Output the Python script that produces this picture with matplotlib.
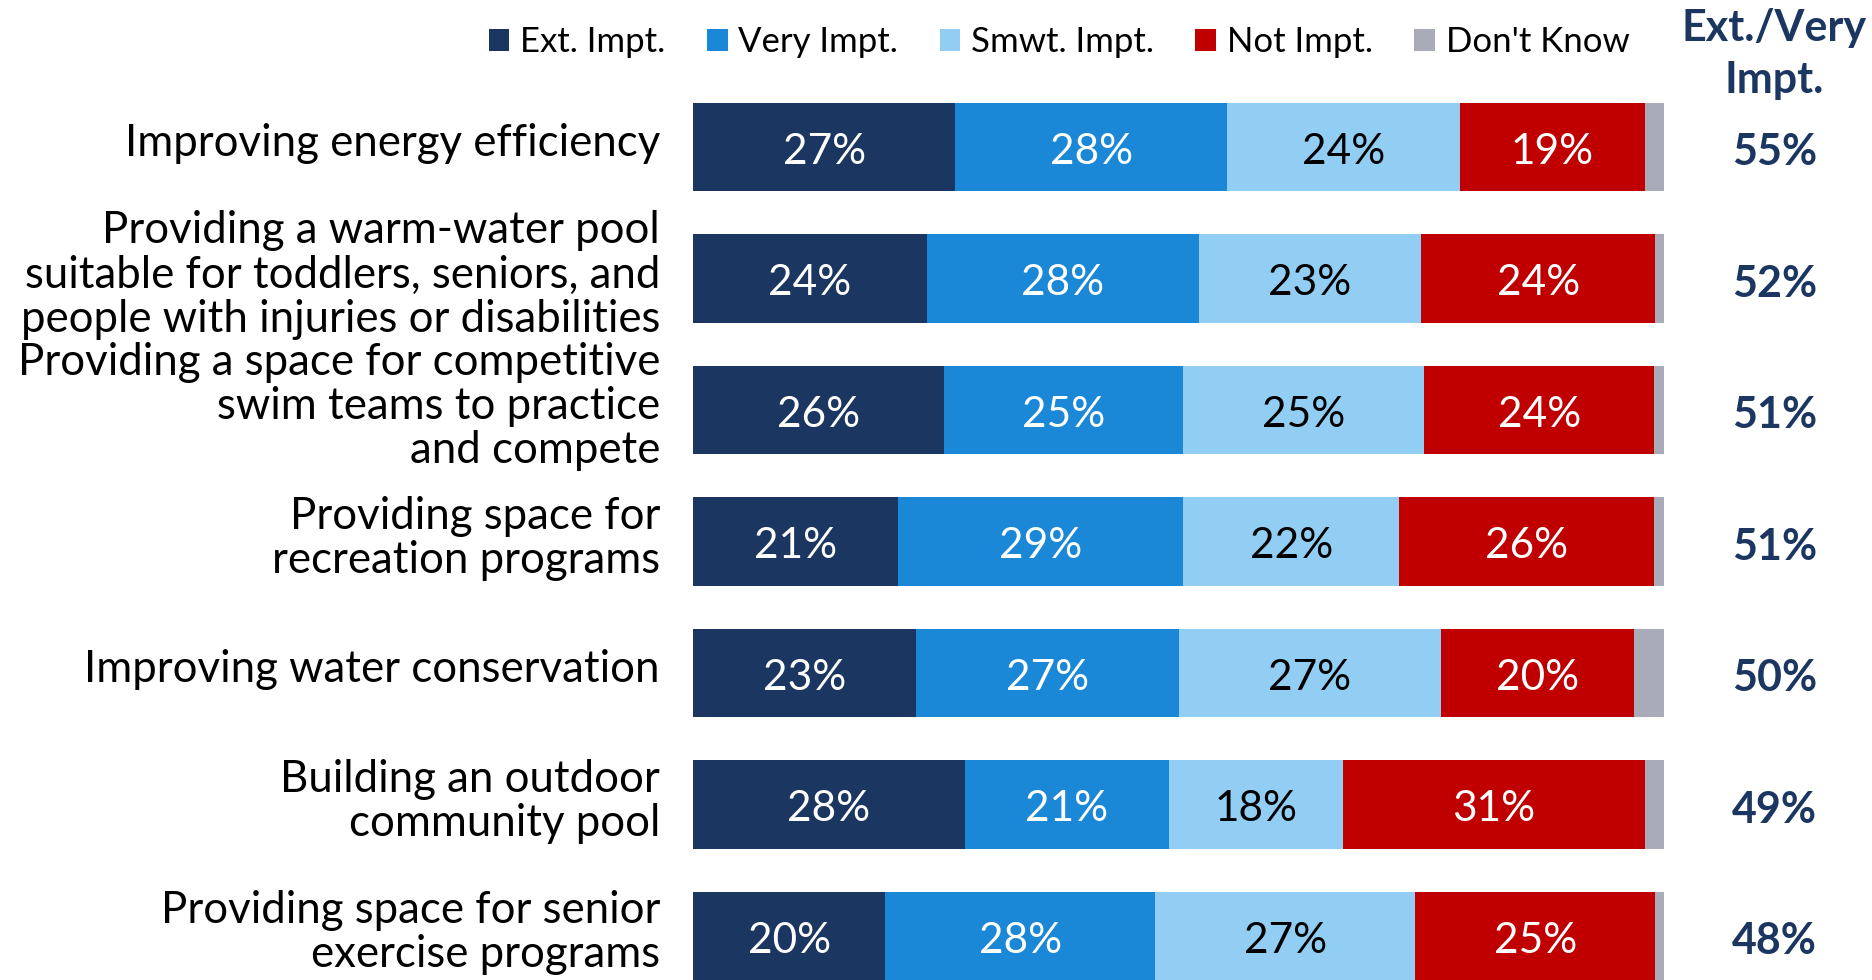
import matplotlib
matplotlib.use("Agg")
import matplotlib.pyplot as plt
from matplotlib.patches import Patch

plt.rcParams["font.family"] = ["Lato", "DejaVu Sans"]

categories = [
    "Improving energy efficiency",
    "Providing a warm-water pool\nsuitable for toddlers, seniors, and\npeople with injuries or disabilities",
    "Providing a space for competitive\nswim teams to practice\nand compete",
    "Providing space for\nrecreation programs",
    "Improving water conservation",
    "Building an outdoor\ncommunity pool",
    "Providing space for senior\nexercise programs",
]
series_names = ["Ext. Impt.", "Very Impt.", "Smwt. Impt.", "Not Impt.", "Don't Know"]
ext_impt = [27, 24.1, 25.8, 21.1, 23.0, 28.0, 19.8]
very_impt = [28, 28.0, 24.7, 29.4, 27.0, 21.0, 27.8]
smwt_impt = [24, 22.9, 24.8, 22.2, 27.0, 17.9, 26.8]
not_impt = [19, 24.1, 23.7, 26.3, 19.9, 31.1, 24.7]
dont_know = [2, 1.0, 1.0, 1.0, 3.1, 2.0, 1.0]
ext_very = [55, 52, 51, 51, 50, 49, 48]

colors = ["#1C3662", "#1A87D7", "#92CDF3", "#C00000", "#A9ABB8"]
label_colors = ["white", "white", "black", "white", None]
navy = "#1C3662"

W, H = 1872, 980
fig = plt.figure(figsize=(W / 100, H / 100), dpi=100)
top_px = 81.25
ax = fig.add_axes([693 / W, 0, (1664 - 693) / W, 1 - top_px / H])
ax.set_xlim(0, 100)
ax.set_ylim(6.335, -0.5)
ax.axis("off")

ys = list(range(len(categories)))
series = [ext_impt, very_impt, smwt_impt, not_impt, dont_know]
left = [0.0] * len(categories)
handles = []
for name, vals, col, lcol in zip(series_names, series, colors, label_colors):
    ax.barh(ys, vals, left=left, height=0.67, color=col, edgecolor="none", label=name)
    handles.append(Patch(facecolor=col, edgecolor="none", label=name))
    if lcol is not None:
        for y, v, l in zip(ys, vals, left):
            ax.text(l + v / 2, y + 0.035, f"{round(v)}%", ha="center", va="center",
                    color=lcol, fontsize=30.5)
    left = [l + v for l, v in zip(left, vals)]

for y, cat in zip(ys, categories):
    ax.text(-3.4, y - 0.025, cat, ha="right", va="center", multialignment="right",
            fontsize=31.5, color="black", linespacing=1.1, clip_on=False)

for y, n in zip(ys, ext_very):
    ax.text(111.4, y + 0.04, f"{n}%", ha="center", va="center", fontsize=31,
            fontweight="bold", color=navy, clip_on=False)

fig.text(1774 / W, 1 - 28 / H, "Ext./Very", ha="center", va="center", fontsize=31,
         fontweight="bold", color=navy)
fig.text(1774 / W, 1 - 80 / H, "Impt.", ha="center", va="center", fontsize=31,
         fontweight="bold", color=navy)

fig.legend(handles=handles, loc="center", bbox_to_anchor=((489 + 1629) / 2 / W, 1 - 42 / H),
           ncol=5, frameon=False, fontsize=25, handlelength=0.6, handleheight=0.6,
           handletextpad=0.3, columnspacing=1.2, borderpad=0, borderaxespad=0)

fig.savefig("out.png", dpi=100)
